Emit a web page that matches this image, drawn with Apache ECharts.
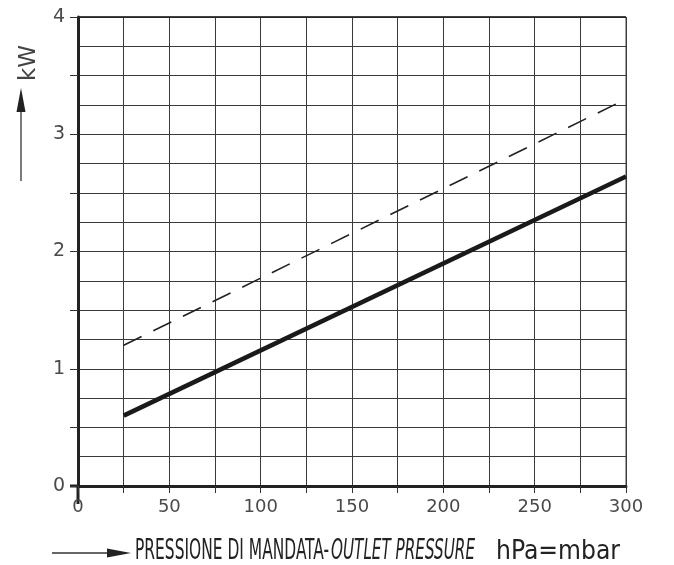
<!DOCTYPE html>
<html><head><meta charset="utf-8">
<script src="https://cdn.jsdelivr.net/npm/echarts@6/dist/echarts.min.js"></script>
<style>html,body{margin:0;padding:0;background:#fff}#c{width:674px;height:565px}</style>
</head><body><div id="c"></div>
<script>
var pressure = [25, 300];
var powerSolid = [0.6, 2.64];
var powerDashed = [1.2, 3.3];
var xTickLabels = [0, 50, 100, 150, 200, 250, 300];
var yTickLabels = [0, 1, 2, 3, 4];

var chart = echarts.init(document.getElementById('c'));
var FONT = '"DejaVu Sans Condensed","DejaVu Sans",sans-serif';
var LFONT = '"DejaVu Sans",sans-serif';
var option = {
  animation: false,
  backgroundColor: '#fff',
  grid: {left: 78, right: 48, top: 17, bottom: 79, show: true, borderColor: '#444', borderWidth: 1},
  xAxis: {
    type: 'value', min: 0, max: 300, interval: 25,
    axisLine: {show: true, lineStyle: {color: '#222', width: 3}},
    axisTick: {show: true, length: 7, lineStyle: {color: '#333', width: 1}},
    axisLabel: {margin: 12, fontSize: 18, color: '#4a4a4a', fontFamily: LFONT,
      formatter: function (v) { return xTickLabels.indexOf(v) >= 0 ? String(v) : ''; }},
    splitLine: {show: true, lineStyle: {color: '#3a3a3a', width: 1}}
  },
  yAxis: {
    type: 'value', min: 0, max: 4, interval: 0.5,
    axisLine: {show: true, lineStyle: {color: '#222', width: 3}},
    axisTick: {show: true, length: 8, lineStyle: {color: '#333', width: 1}},
    axisLabel: {margin: 13, fontSize: 19, color: '#4a4a4a', fontFamily: LFONT,
      formatter: function (v) { return yTickLabels.indexOf(v) >= 0 ? String(v) : ''; }},
    splitLine: {show: true, lineStyle: {color: '#3a3a3a', width: 1}},
    minorTick: {show: false, splitNumber: 2},
    minorSplitLine: {show: true, lineStyle: {color: '#3a3a3a', width: 1}}
  },
  series: [
    {type: 'line', data: pressure.map(function (p, i) { return [p, powerDashed[i]]; }),
      symbol: 'none', lineStyle: {color: '#222', width: 1.6, type: [20, 13]}},
    {type: 'line', data: pressure.map(function (p, i) { return [p, powerSolid[i]]; }),
      symbol: 'none', lineStyle: {color: '#1a1a1a', width: 4.5}}
  ]
};
chart.setOption(option);

var ctx = document.createElement('canvas').getContext('2d');
function fitText(str, font, x0, x1, y) {
  ctx.font = font;
  var w = ctx.measureText(str).width;
  return {type: 'text', x: x0, y: y, scaleX: (x1 - x0) / w, originX: 0,
    style: {text: str, font: font, fill: '#222', align: 'left', verticalAlign: 'middle'}};
}

var o = chart.convertToPixel({gridIndex: 0}, [0, 0]);
var e = chart.convertToPixel({gridIndex: 0}, [300, 4]);
chart.setOption({
  graphic: [
    {type: 'line', shape: {x1: o[0], y1: o[1], x2: o[0], y2: o[1] + 18}, style: {stroke: '#222', lineWidth: 3}},
    {type: 'line', shape: {x1: o[0] - 8, y1: o[1], x2: o[0], y2: o[1]}, style: {stroke: '#222', lineWidth: 3}},
    {type: 'line', shape: {x1: o[0], y1: e[1], x2: e[0], y2: e[1]}, style: {stroke: '#222', lineWidth: 1.5}},
    {type: 'text', x: 29, y: 63, rotation: Math.PI / 2, style: {text: 'kW', font: '23px ' + LFONT, fill: '#444', align: 'center', verticalAlign: 'middle'}},
    {type: 'line', shape: {x1: 21, y1: 181, x2: 21, y2: 105}, style: {stroke: '#333', lineWidth: 1.3}},
    {type: 'polygon', shape: {points: [[21, 88], [16.5, 112], [25.5, 112]]}, style: {fill: '#222'}},
    {type: 'line', shape: {x1: 52, y1: 553, x2: 112, y2: 553}, style: {stroke: '#333', lineWidth: 1.3}},
    {type: 'polygon', shape: {points: [[131, 553], [107, 548.5], [107, 557.5]]}, style: {fill: '#222'}},
    fitText('PRESSIONE DI MANDATA-', '28px ' + FONT, 135, 329, 552),
    fitText('OUTLET PRESSURE', 'italic 28px ' + FONT, 331, 475, 552),
    fitText('hPa=mbar', '27px ' + FONT, 496, 620, 552)
  ]
});
</script>
</body></html>
